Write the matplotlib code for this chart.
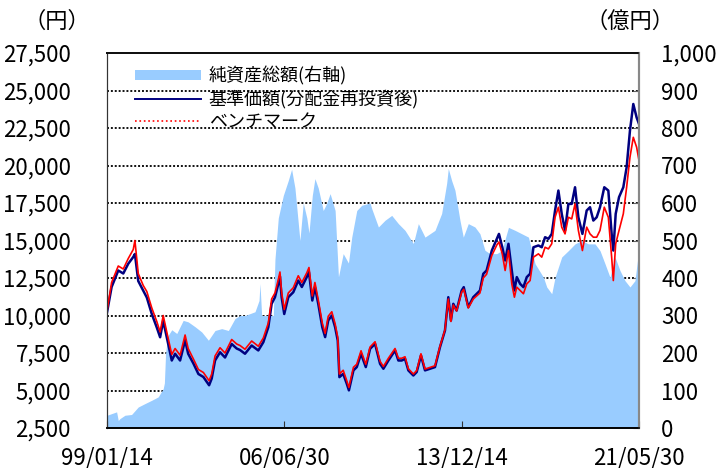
import matplotlib
matplotlib.use("Agg")
import matplotlib.pyplot as plt
from matplotlib.lines import Line2D
from matplotlib.patches import Patch

plt.rcParams['font.family'] = ['Noto Sans CJK JP', 'DejaVu Sans']

# decimal years
nav_t = [1999.036, 1999.23, 1999.51, 1999.72, 1999.93, 2000.14, 2000.21, 2000.35, 2000.56, 2000.71,
         2000.92, 2001.13, 2001.27, 2001.40, 2001.55, 2001.76, 2001.90, 2002.11, 2002.32, 2002.45,
         2002.67, 2002.88, 2003.09, 2003.33, 2003.44, 2003.58, 2003.79, 2004.00, 2004.28, 2004.49,
         2004.63, 2004.84, 2005.12, 2005.40, 2005.61, 2005.82, 2005.96, 2006.10, 2006.24, 2006.31,
         2006.38, 2006.49, 2006.66, 2006.87, 2007.08, 2007.23, 2007.44, 2007.53, 2007.67, 2007.78,
         2007.92, 2008.09, 2008.21, 2008.34, 2008.49, 2008.63, 2008.74, 2008.81, 2008.97, 2009.12,
         2009.21, 2009.40, 2009.54, 2009.72, 2009.92, 2010.10, 2010.31, 2010.52, 2010.66, 2010.87,
         2011.15, 2011.29, 2011.43, 2011.57, 2011.71, 2011.92, 2012.06, 2012.24, 2012.41, 2012.62,
         2012.83, 2013.04, 2013.25, 2013.39, 2013.50, 2013.60, 2013.74, 2013.95, 2014.04, 2014.23,
         2014.44, 2014.72, 2014.86, 2015.00, 2015.22, 2015.43, 2015.52, 2015.66, 2015.78, 2015.92,
         2016.06, 2016.17, 2016.27, 2016.41, 2016.55, 2016.69, 2016.83, 2016.97, 2017.18, 2017.32,
         2017.46, 2017.60, 2017.74, 2017.88, 2018.02, 2018.16, 2018.30, 2018.44, 2018.58, 2018.72,
         2018.86, 2019.03, 2019.21, 2019.35, 2019.49, 2019.63, 2019.77, 2019.95, 2020.12, 2020.26,
         2020.33, 2020.43, 2020.57, 2020.75, 2020.89, 2021.03, 2021.17, 2021.31, 2021.41]

# 基準価額 (分配金再投資後), yen
nav = [10200, 11900, 13000, 12800, 13450, 13900, 14100, 12300, 11650, 11200,
       10100, 9200, 8550, 9650, 8550, 7000, 7450, 7000, 8350, 7450,
       6800, 6100, 5900, 5350, 5800, 7000, 7550, 7200, 8100, 7800,
       7700, 7450, 8000, 7670, 8220, 9220, 10780, 11220, 12100, 12600,
       11220, 10100, 11220, 11550, 12330, 11900, 12570, 12900, 11000, 11900,
       10780, 9220, 8560, 9670, 10000, 9220, 8330, 5890, 6110, 5450,
       5010, 6340, 6560, 7450, 6560, 7780, 8110, 6780, 6450, 7000,
       7670, 7000, 7000, 7110, 6340, 6000, 6230, 7340, 6340, 6450,
       6560, 7890, 9000, 11220, 9670, 10780, 10330, 11660, 11890, 10560,
       11220, 11660, 12780, 13000, 14330, 15110, 15440, 14550, 13670, 14780,
       13000, 11670, 12560, 12110, 11890, 12560, 12780, 14550, 14670, 14550,
       15220, 15110, 15440, 17000, 18330, 16780, 15670, 17440, 17440, 18550,
       16550, 15440, 17000, 17220, 16330, 16550, 17220, 18550, 18330, 15440,
       14330, 16780, 17890, 18550, 19880, 22330, 24100, 23200, 22770]

# ベンチマーク, yen (same dates)
bench = [10300, 12200, 13300, 13100, 13800, 14400, 15000, 12800, 12000, 11600,
         10500, 9600, 8900, 10000, 8900, 7400, 7800, 7350, 8700, 7800,
         7100, 6400, 6200, 5650, 6100, 7300, 7850, 7500, 8400, 8100,
         8000, 7750, 8300, 7950, 8500, 9500, 11100, 11500, 12400, 12900,
         11550, 10400, 11500, 11850, 12650, 12200, 12850, 13200, 11300, 12200,
         11050, 9500, 8800, 9950, 10250, 9450, 8550, 6100, 6350, 5650,
         5200, 6550, 6750, 7650, 6750, 7900, 8250, 6950, 6600, 7150,
         7800, 7150, 7150, 7250, 6450, 6100, 6330, 7450, 6430, 6540,
         6650, 7950, 9050, 11100, 9600, 10700, 10300, 11550, 11750, 10500,
         11100, 11500, 12500, 12750, 14000, 14700, 14900, 14100, 13000, 14330,
         12110, 11220, 11890, 11670, 11450, 12110, 12330, 13890, 14110, 13890,
         14550, 14440, 14780, 16550, 17220, 15890, 15440, 16550, 16440, 17440,
         15670, 14330, 15890, 15440, 15220, 15220, 15670, 17220, 16550, 13890,
         12330, 14780, 15670, 16780, 18550, 20550, 21880, 21220, 20330]

# 純資産総額, 億円
aum_t = [1999.036, 1999.44, 1999.51, 1999.58, 1999.79, 2000.07, 2000.35, 2000.63, 2000.92, 2001.19,
         2001.40, 2001.45, 2001.50, 2001.59, 2001.76, 2001.97, 2002.24, 2002.45, 2002.74, 2003.02,
         2003.30, 2003.58, 2003.86, 2004.14, 2004.42, 2004.63, 2004.84, 2005.26, 2005.43, 2005.47,
         2005.54, 2006.03, 2006.10, 2006.24, 2006.45, 2006.66, 2006.80, 2006.94, 2007.15, 2007.29,
         2007.44, 2007.53, 2007.67, 2007.78, 2007.92, 2008.13, 2008.28, 2008.42, 2008.63, 2008.77,
         2008.97, 2009.19, 2009.33, 2009.54, 2009.75, 2010.10, 2010.17, 2010.45, 2010.73, 2011.01,
         2011.29, 2011.57, 2011.92, 2012.13, 2012.41, 2012.83, 2013.11, 2013.32, 2013.39, 2013.53,
         2013.67, 2013.88, 2014.02, 2014.23, 2014.51, 2014.72, 2014.93, 2015.14, 2015.43, 2015.64,
         2015.92, 2016.20, 2016.48, 2016.76, 2017.04, 2017.39, 2017.53, 2017.74, 2017.88, 2018.16,
         2018.44, 2018.72, 2019.00, 2019.28, 2019.56, 2019.77, 2019.98, 2020.19, 2020.40, 2020.61,
         2020.82, 2021.03, 2021.24, 2021.41]
aum = [34, 43, 20, 25, 34, 36, 56, 65, 74, 83,
       105, 120, 200, 245, 262, 252, 287, 283, 270, 256,
       234, 260, 265, 260, 292, 300, 300, 310, 340, 385,
       300, 300, 450, 560, 620, 660, 690, 640, 500, 600,
       560, 520, 620, 665, 640, 580, 600, 625, 580, 403,
       465, 440, 509, 580, 594, 600, 585, 536, 554, 567,
       545, 527, 492, 545, 509, 527, 572, 652, 692, 660,
       634, 554, 509, 545, 536, 518, 474, 465, 465, 473,
       535, 527, 518, 509, 438, 402, 376, 358, 402, 456,
       473, 491, 500, 491, 491, 473, 438, 402, 456, 420,
       393, 376, 393, 480]

tick_pos = [1999.036, 2006.495, 2013.953, 2021.41]
tick_labels = ["99/01/14", "06/06/30", "13/12/14", "21/05/30"]
left_ticks = [2500, 5000, 7500, 10000, 12500, 15000, 17500, 20000, 22500, 25000, 27500]
right_ticks = [0, 100, 200, 300, 400, 500, 600, 700, 800, 900, 1000]

fig, ax = plt.subplots(figsize=(7.16, 4.68), dpi=100)
fig.subplots_adjust(left=107 / 716, right=639 / 716, bottom=1 - 428 / 468, top=1 - 53 / 468)
ax2 = ax.twinx()

# net assets on the right axis, drawn in the back
ax.set_zorder(ax2.get_zorder() + 1)
ax.patch.set_visible(False)
ax2.set_ylim(0, 1000)
ax2.set_yticks(right_ticks)
ax2.set_yticklabels([f"{v:,}" for v in right_ticks])
ax2.grid(axis="y", linestyle=(0, (1, 1)), color="#111111", linewidth=1.4)
ax2.set_axisbelow(True)
ax2.fill_between(aum_t, aum, 0, color="#99CCFF", linewidth=0)
ax2.tick_params(axis="y", direction="in", length=4, color="#666666", labelsize=16, pad=16)

# price lines on the left axis
ax.plot(nav_t, nav, color="#000080", linewidth=1.8)
ax.plot(nav_t, bench, color="#FF0000", linewidth=1.2)
ax.set_ylim(2500, 27500)
ax.set_yticks(left_ticks)
ax.set_yticklabels([f"{v:,}" for v in left_ticks])
ax.tick_params(axis="y", length=0, labelsize=16, pad=26)
ax.set_xlim(tick_pos[0], tick_pos[-1])
ax.set_xticks(tick_pos)
ax.set_xticklabels(tick_labels)
ax.tick_params(axis="x", direction="in", length=5, color="#333333", labelsize=16, pad=13)

for a in (ax, ax2):
    a.spines["top"].set_linestyle((0, (1, 1)))
    a.spines["top"].set_color("#111111")
    a.spines["top"].set_linewidth(1.4)
    a.spines["left"].set_color("#333333")
    a.spines["right"].set_color("#888888")
    a.spines["right"].set_linewidth(1.5)
    a.spines["bottom"].set_color("#000000")
    a.spines["bottom"].set_linewidth(1.2)

handles = [Patch(facecolor="#99CCFF", edgecolor="none"),
           Line2D([], [], color="#000080", linewidth=1.4),
           Line2D([], [], color="#FF0000", linewidth=1.2, linestyle=":")]
labels = ["純資産総額(右軸)", "基準価額(分配金再投資後)", "ベンチマーク"]
ax.legend(handles, labels, loc="upper left", bbox_to_anchor=(0.052, 0.965), frameon=False,
          fontsize=13, handlelength=3.7, handleheight=0.5, handletextpad=0.4,
          labelspacing=0.25, borderpad=0, borderaxespad=0)

fig.text(57 / 716, 1 - 21 / 468, "（円）", ha="center", va="center", fontsize=16)
fig.text(630 / 716, 1 - 21 / 468, "（億円）", ha="center", va="center", fontsize=16)

fig.savefig("out.png", dpi=100, facecolor="white")
